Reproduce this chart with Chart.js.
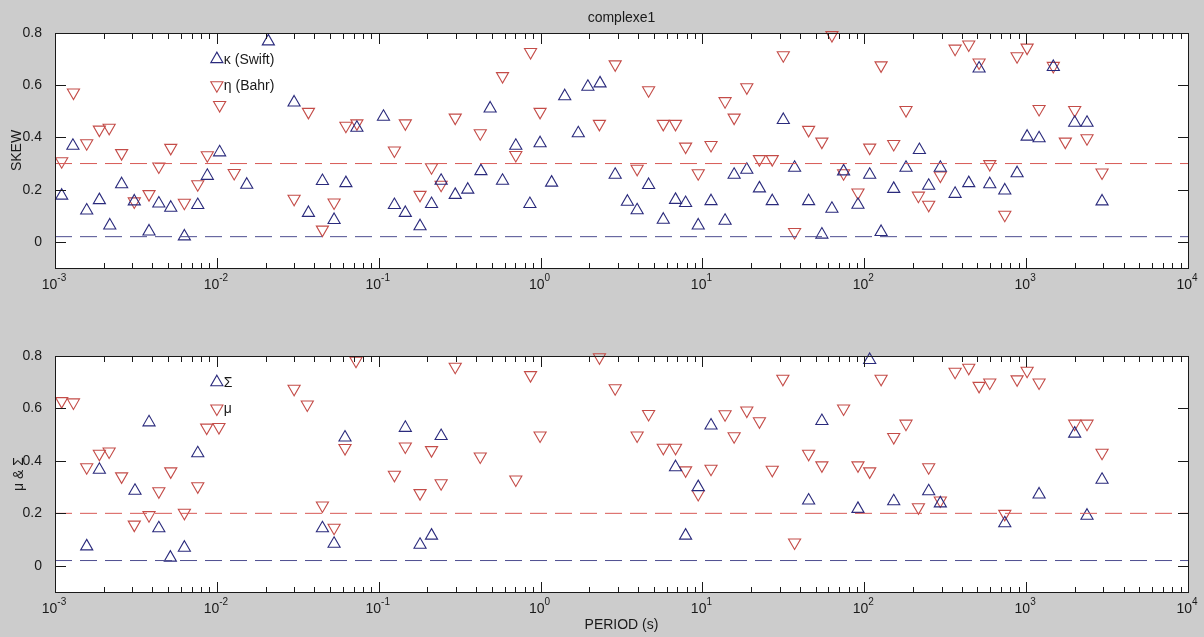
<!DOCTYPE html>
<html>
<head>
<meta charset="utf-8">
<script src="https://cdn.jsdelivr.net/npm/chart.js@4.4.1/dist/chart.umd.min.js"></script>
<style>
html,body{margin:0;padding:0;background:#cccccc;width:1204px;height:637px;overflow:hidden;}
canvas{position:absolute;left:0;display:block;}
#top{top:0;}
#bottom{top:318px;}
</style>
</head>
<body>
<canvas id="top" width="1204" height="300"></canvas>
<canvas id="bottom" width="1204" height="319"></canvas>
<script>
// periods (s) and values
const periodsKappa = [0.00110,0.00129,0.00157,0.00188,0.00218,0.00258,0.00309,0.00381,0.00438,0.00519,0.00630,0.00762,0.00873,0.0104,0.0153,0.0208,0.0300,0.0368,0.0449,0.0530,0.0627,0.0733,0.107,0.125,0.146,0.180,0.212,0.243,0.297,0.355,0.428,0.488,0.582,0.703,0.859,0.993,1.17,1.41,1.71,1.96,2.33,2.89,3.44,3.95,4.65,5.73,6.82,7.87,9.42,11.3,13.8,15.7,18.8,22.5,27.0,31.6,37.1,45.3,54.7,63.1,74.5,91.4,108,127,152,181,219,250,295,364,442,512,596,738,879,1014,1202,1472,1995,2377,2944];
const skewKappa = [0.177,0.368,0.120,0.160,0.063,0.221,0.155,0.040,0.147,0.131,0.021,0.141,0.253,0.343,0.219,0.768,0.534,0.111,0.233,0.084,0.225,0.437,0.479,0.141,0.111,0.060,0.145,0.234,0.180,0.200,0.271,0.511,0.234,0.368,0.145,0.378,0.227,0.558,0.416,0.594,0.607,0.257,0.154,0.121,0.218,0.085,0.161,0.149,0.063,0.156,0.081,0.257,0.276,0.205,0.156,0.467,0.284,0.156,0.028,0.127,0.270,0.142,0.257,0.038,0.203,0.284,0.352,0.215,0.284,0.184,0.225,0.664,0.221,0.197,0.263,0.403,0.397,0.670,0.456,0.456,0.155];

const periodsEta = [0.00110,0.00130,0.00157,0.00188,0.00216,0.00258,0.00309,0.00381,0.00438,0.00519,0.00630,0.00762,0.00873,0.0104,0.0128,0.0300,0.0368,0.0449,0.0530,0.0627,0.0733,0.125,0.146,0.180,0.212,0.243,0.297,0.424,0.582,0.703,0.867,0.993,2.31,2.89,3.95,4.65,5.73,6.82,7.87,9.42,11.3,13.8,15.7,18.8,22.5,27.0,31.6,37.1,45.3,54.7,63.1,74.5,91.4,108,127,152,181,216,250,295,364,442,512,596,738,879,1014,1202,1472,1746,1995,2377,2944];
const skewEta = [0.309,0.572,0.378,0.430,0.437,0.340,0.155,0.183,0.289,0.360,0.150,0.221,0.332,0.524,0.264,0.165,0.498,0.047,0.151,0.445,0.454,0.350,0.454,0.180,0.286,0.219,0.476,0.416,0.635,0.333,0.727,0.498,0.452,0.680,0.280,0.581,0.452,0.452,0.365,0.263,0.371,0.539,0.476,0.592,0.317,0.317,0.715,0.038,0.429,0.384,0.792,0.263,0.189,0.361,0.676,0.375,0.505,0.177,0.142,0.254,0.740,0.756,0.687,0.298,0.104,0.711,0.744,0.509,0.674,0.384,0.505,0.397,0.266];

const periodsSigma = [0.00157,0.00188,0.00312,0.00381,0.00438,0.00516,0.00630,0.00762,0.0449,0.0530,0.0619,0.146,0.180,0.212,0.243,6.82,7.87,9.42,11.3,45.3,54.7,91.4,108,152,250,295,738,1202,1995,2377,2944];
const sigma = [0.074,0.366,0.286,0.547,0.143,0.031,0.069,0.429,0.143,0.084,0.489,0.526,0.080,0.115,0.495,0.376,0.115,0.300,0.535,0.249,0.552,0.217,0.785,0.246,0.284,0.238,0.162,0.272,0.504,0.191,0.328];

const periodsMu = [0.00110,0.00130,0.00157,0.00188,0.00216,0.00258,0.00309,0.00381,0.00438,0.00519,0.00630,0.00762,0.00865,0.0103,0.0300,0.0362,0.0449,0.0530,0.0619,0.0724,0.125,0.146,0.180,0.212,0.243,0.297,0.424,0.703,0.867,0.993,2.31,2.89,3.95,4.65,5.73,6.82,7.87,9.42,11.3,13.8,15.7,18.8,22.5,27.0,31.4,37.1,45.3,54.7,74.5,91.4,108,127,152,181,216,250,295,364,442,512,596,738,879,1014,1202,1995,2377,2944];
const mu = [0.628,0.623,0.376,0.427,0.436,0.341,0.157,0.193,0.284,0.360,0.202,0.303,0.527,0.529,0.675,0.615,0.230,0.145,0.449,0.782,0.347,0.455,0.277,0.441,0.315,0.759,0.417,0.329,0.727,0.497,0.795,0.677,0.497,0.579,0.450,0.450,0.364,0.274,0.370,0.578,0.494,0.592,0.551,0.366,0.713,0.089,0.427,0.383,0.600,0.383,0.360,0.713,0.491,0.542,0.223,0.376,0.249,0.740,0.755,0.686,0.699,0.198,0.711,0.744,0.699,0.542,0.542,0.431];

// dashed reference levels [red, blue]
const skewLevels = [0.3, 0.02];
const muSigmaLevels = [0.2, 0.02];

// legend labels (drawn next to a marker at period 0.01)
const topLegend = ["κ (Swift)", "η (Bahr)"];
const bottomLegend = ["Σ", "μ"];
const legendX = 0.01;
const legendY = [0.7, 0.6];

const yTicks = [0, 0.2, 0.4, 0.6, 0.8];
const xExponents = [-3, -2, -1, 0, 1, 2, 3, 4];
const minorSteps = [2, 3, 4, 5, 6, 7, 8, 9];

const BLUE = "#2a2a7c";
const RED = "#c44c48";
const BLUE_LINE = "#4e4e90";
const RED_LINE = "#d85a56";
const INK = "#1a1a1a";
const FONT = "'Liberation Sans', Arial, sans-serif";

function pts(xs, ys){
  return xs.map((x, i) => ({x: x, y: ys[i]}));
}

function marker(data, color, down){
  return {
    type: "scatter",
    data: data,
    showLine: false,
    pointStyle: "triangle",
    rotation: down ? 180 : 0,
    pointRadius: 7,
    pointBorderWidth: 1.1,
    pointBorderColor: color,
    pointBackgroundColor: "rgba(0,0,0,0)",
    clip: false
  };
}

function refLine(level, color){
  return {
    type: "line",
    data: [{x: 1e-3, y: level}, {x: 1e4, y: level}],
    borderColor: color,
    borderWidth: 1,
    borderDash: [17, 8],
    pointRadius: 0,
    fill: false
  };
}

const matlabAxes = {
  id: "matlabAxes",
  beforeDraw(chart){
    const ctx = chart.ctx, a = chart.chartArea;
    ctx.save();
    ctx.fillStyle = "#fff";
    ctx.fillRect(a.left, a.top, a.right - a.left, a.bottom - a.top);
    ctx.restore();
  },
  afterDraw(chart, args, opts){
    const ctx = chart.ctx, a = chart.chartArea;
    const xs = chart.scales.x, ys = chart.scales.y;
    const L = Math.round(a.left), R = Math.round(a.right), T = Math.round(a.top), B = Math.round(a.bottom);
    ctx.save();
    ctx.fillStyle = INK;

    // inward ticks on all four sides
    const xTick = (v, len) => {
      const px = Math.round(xs.getPixelForValue(v));
      ctx.fillRect(px, B - len + 1, 1, len);
      ctx.fillRect(px, T, 1, len);
    };
    xExponents.forEach(e => {
      const dec = Math.pow(10, e);
      xTick(dec, 11);
      if (e < 4) minorSteps.forEach(m => xTick(m * dec, 6));
    });
    yTicks.forEach(v => {
      const py = Math.round(ys.getPixelForValue(v));
      ctx.fillRect(L, py, 11, 1);
      ctx.fillRect(R - 10, py, 11, 1);
    });

    // axes box
    ctx.fillRect(L, T, R - L + 1, 1);
    ctx.fillRect(L, B, R - L + 1, 1);
    ctx.fillRect(L, T, 1, B - T + 1);
    ctx.fillRect(R, T, 1, B - T + 1);

    // decade labels 10^n
    ctx.textBaseline = "middle";
    xExponents.forEach(e => {
      const px = xs.getPixelForValue(Math.pow(10, e));
      const base = "10", sup = String(e);
      ctx.font = "14px " + FONT;
      const wb = ctx.measureText(base).width;
      ctx.font = "10px " + FONT;
      const ws = ctx.measureText(sup).width;
      const x0 = px - (wb + ws) / 2 - 1;
      ctx.font = "14px " + FONT;
      ctx.textAlign = "left";
      ctx.fillText(base, x0, a.bottom + 17);
      ctx.font = "10px " + FONT;
      ctx.fillText(sup, x0 + wb, a.bottom + 10);
    });

    // y axis title
    ctx.font = "14px " + FONT;
    ctx.textAlign = "center";
    ctx.save();
    ctx.translate(opts.yTitleX, (a.top + a.bottom) / 2);
    ctx.rotate(-Math.PI / 2);
    ctx.fillText(opts.yTitle, 0, 0);
    ctx.restore();

    if (opts.title) ctx.fillText(opts.title, (a.left + a.right) / 2, 18);
    if (opts.xTitle) ctx.fillText(opts.xTitle, (a.left + a.right) / 2, a.bottom + 33);

    // legend text next to the legend markers
    ctx.textAlign = "left";
    opts.legend.forEach((t, i) => {
      const px = xs.getPixelForValue(legendX), py = ys.getPixelForValue(legendY[i]);
      ctx.fillText(t, px + 7, py + 1);
    });
    ctx.restore();
  }
};

function makeChart(id, cfg){
  const h = document.getElementById(id).height;
  return new Chart(document.getElementById(id), {
    data: {
      datasets: [
        refLine(cfg.levels[0], RED_LINE),
        refLine(cfg.levels[1], BLUE_LINE),
        marker(cfg.blue, BLUE, false),
        marker(cfg.red, RED, true),
        marker([{x: legendX, y: legendY[0]}], BLUE, false),
        marker([{x: legendX, y: legendY[1]}], RED, true)
      ]
    },
    options: {
      responsive: false,
      animation: false,
      devicePixelRatio: 1,
      events: [],
      layout: {padding: {top: cfg.top, right: 16, left: 0, bottom: 0}},
      plugins: {
        legend: {display: false},
        tooltip: {enabled: false},
        matlabAxes: cfg.axes
      },
      scales: {
        x: {
          type: "logarithmic",
          min: 1e-3,
          max: 1e4,
          grid: {display: false},
          border: {display: false},
          ticks: {display: false},
          afterFit: s => { s.height = h - cfg.bottom; }
        },
        y: {
          type: "linear",
          min: -0.1,
          max: 0.8,
          grid: {display: false},
          border: {display: false},
          afterBuildTicks: s => { s.ticks = yTicks.map(v => ({value: v})); },
          ticks: {
            color: INK,
            padding: 5,
            font: {family: FONT, size: 14},
            callback: v => String(v)
          },
          afterFit: s => { s.width = 55; }
        }
      }
    },
    plugins: [matlabAxes]
  });
}

makeChart("top", {
  top: 33, bottom: 268,
  levels: skewLevels,
  blue: pts(periodsKappa, skewKappa),
  red: pts(periodsEta, skewEta),
  axes: {yTitle: "SKEW", yTitleX: 17, title: "complexe1", legend: topLegend}
});

makeChart("bottom", {
  top: 38, bottom: 274,
  levels: muSigmaLevels,
  blue: pts(periodsSigma, sigma),
  red: pts(periodsMu, mu),
  axes: {yTitle: "μ & Σ", yTitleX: 19, xTitle: "PERIOD (s)", legend: bottomLegend}
});
</script>
</body>
</html>
